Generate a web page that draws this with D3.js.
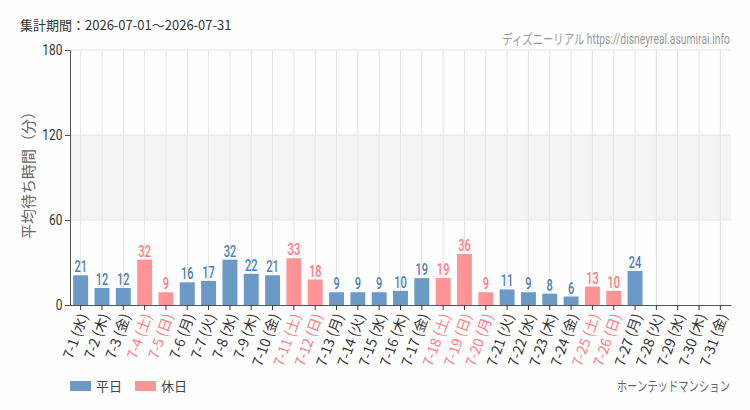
<!DOCTYPE html>
<html>
<head>
<meta charset="utf-8">
<script src="https://cdn.jsdelivr.net/npm/d3@7"></script>
<style>
	body { margin: 0; background: #fdfefd; }
	svg text { font-family: "Roboto", "Noto Sans CJK JP", sans-serif; }
	.cjk { font-family: "Noto Sans CJK JP", sans-serif; }
</style>
</head>
<body>
<div id="graphic"></div>
<script>
// data
const days = d3.range(1, 32).map((d) => `7-${d}`);
const weekdays = ['水', '木', '金', '土', '日', '月', '火', '水', '木', '金', '土', '日', '月', '火', '水', '木', '金', '土', '日', '月', '火', '水', '木', '金', '土', '日', '月', '火', '水', '木', '金'];
const holidays = ['7-4', '7-5', '7-11', '7-12', '7-18', '7-19', '7-20', '7-25', '7-26'];
const waitTimes = [21, 12, 12, 32, 9, 16, 17, 32, 22, 21, 33, 18, 9, 9, 9, 10, 19, 19, 36, 9, 11, 9, 8, 6, 13, 10, 24, null, null, null, null];
const yTicks = [0, 60, 120, 180];

const blue = '#6b9ac6', blueText = '#4d80b6';
const pink = '#ff9396', pinkText = '#ff7b82';

let width = 750, height = 410;
let margin = { top: 50, right: 19, bottom: 105, left: 70 };
let chartW = width - margin.left - margin.right;
let chartH = height - margin.top - margin.bottom;

const graphicData = days.map((d, i) => ({ day: d, wd: weekdays[i], value: waitTimes[i], holiday: holidays.includes(d) }));

const svg = d3.select('#graphic').append('svg')
	.attr('width', width).attr('height', height);

const g = svg.append('g').attr('transform', `translate(${margin.left},${margin.top})`);

const x = d3.scaleBand().domain(days).range([0, chartW]).paddingInner(0.3).paddingOuter(0.15);
const y = d3.scaleLinear().domain([0, 180]).range([chartH, 0]);

// shaded band 60-120
g.append('rect')
	.attr('x', 0).attr('width', chartW)
	.attr('y', y(120)).attr('height', y(60) - y(120))
	.attr('fill', '#f4f4f4');

// vertical grid
g.append('g').selectAll('line').data(days).join('line')
	.attr('x1', (d) => x(d) + x.bandwidth() / 2).attr('x2', (d) => x(d) + x.bandwidth() / 2)
	.attr('y1', 0).attr('y2', chartH)
	.attr('stroke', '#e4e4e4');

// horizontal grid
g.append('g').selectAll('line').data(yTicks.slice(1)).join('line')
	.attr('x1', 0).attr('x2', chartW)
	.attr('y1', (d) => y(d)).attr('y2', (d) => y(d))
	.attr('stroke', '#e4e4e4');

// bars
const bars = graphicData.filter((d) => d.value != null);
g.append('g').selectAll('rect').data(bars).join('rect')
	.attr('x', (d) => x(d.day))
	.attr('width', x.bandwidth())
	.attr('y', (d) => y(d.value))
	.attr('height', (d) => chartH - y(d.value))
	.attr('fill', (d) => d.holiday ? pink : blue);

// value labels (condensed look)
g.append('g').selectAll('text').data(bars).join('text')
	.attr('transform', (d) => `translate(${x(d.day) + x.bandwidth() / 2},${y(d.value) - 3}) scale(0.65,1)`)
	.attr('text-anchor', 'middle')
	.attr('font-size', 17)
	.attr('font-weight', 500)
	.attr('fill', (d) => d.holiday ? pinkText : blueText)
	.text((d) => d.value);

// y axis
const yAxis = g.append('g')
	.call(d3.axisLeft(y).tickValues(yTicks).tickSize(5).tickPadding(4));
yAxis.select('.domain').attr('stroke', '#555');
yAxis.selectAll('.tick line').attr('stroke', '#555');
yAxis.selectAll('.tick text')
	.attr('font-size', 14).attr('fill', '#333')
	.attr('transform', 'scale(0.85,1)');

// x axis
const xAxis = g.append('g')
	.attr('transform', `translate(0,${chartH})`)
	.call(d3.axisBottom(x).tickSize(5).tickSizeOuter(0).tickFormat(''));
xAxis.select('.domain').attr('stroke', '#555');
xAxis.selectAll('.tick line').attr('stroke', '#333');

g.append('g').selectAll('text').data(graphicData).join('text')
	.attr('class', 'cjk')
	.attr('transform', (d) => `translate(${x(d.day) + x.bandwidth() / 2 + 3},${chartH + 9}) rotate(-70)`)
	.attr('text-anchor', 'end')
	.attr('dy', '0.35em')
	.attr('font-size', 14)
	.attr('fill', (d) => d.holiday ? pinkText : '#333')
	.text((d) => `${d.day} (${d.wd})`);

// y title
svg.append('text')
	.attr('class', 'cjk')
	.attr('transform', `translate(34,${margin.top + chartH / 2 - 6}) rotate(-90)`)
	.attr('text-anchor', 'middle')
	.attr('font-size', 15)
	.attr('fill', '#666')
	.text('平均待ち時間（分）');

// header
svg.append('text')
	.attr('class', 'cjk')
	.attr('x', 20).attr('y', 30)
	.attr('font-size', 13)
	.attr('fill', '#333')
	.text('集計期間：2026-07-01〜2026-07-31');

svg.append('text')
	.attr('transform', 'translate(730,44) scale(0.74,1)')
	.attr('text-anchor', 'end')
	.attr('font-size', 14)
	.attr('fill', '#999')
	.text('ディズニーリアル https://disneyreal.asumirai.info');

// legend
const legend = [{ label: '平日', color: blue }, { label: '休日', color: pink }];
const lg = svg.append('g').selectAll('g').data(legend).join('g')
	.attr('transform', (d, i) => `translate(${70 + i * 65},381)`);
lg.append('rect').attr('width', 21).attr('height', 10).attr('fill', (d) => d.color);
lg.append('text').attr('class', 'cjk')
	.attr('x', 26).attr('y', 10)
	.attr('font-size', 13).attr('fill', '#444')
	.text((d) => d.label);

svg.append('text')
	.attr('transform', 'translate(730,391) scale(0.74,1)')
	.attr('text-anchor', 'end')
	.attr('font-size', 14)
	.attr('fill', '#666')
	.text('ホーンテッドマンション');
</script>
</body>
</html>
